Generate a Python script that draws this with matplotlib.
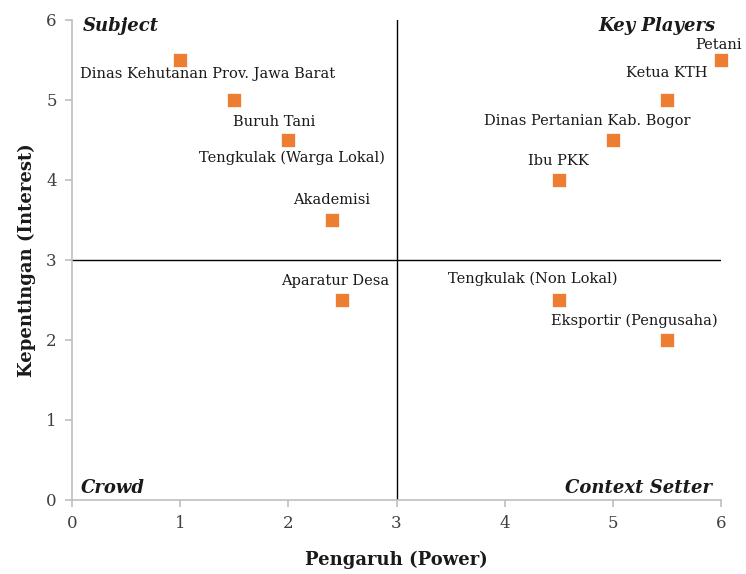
import matplotlib.pyplot as plt

# dados do mapa de stakeholder
aktor = ['Dinas Kehutanan Prov. Jawa Barat', 'Buruh Tani', 'Tengkulak (Warga Lokal)',
         'Akademisi', 'Aparatur Desa', 'Petani', 'Ketua KTH', 'Dinas Pertanian Kab. Bogor',
         'Ibu PKK', 'Tengkulak (Non Lokal)', 'Eksportir (Pengusaha)']
pengaruh = [1, 1.5, 2, 2.4, 2.5, 6, 5.5, 5, 4.5, 4.5, 5.5]
kepentingan = [5.5, 5, 4.5, 3.5, 2.5, 5.5, 5, 4.5, 4, 2.5, 2]
# deslocamento dos rótulos em pixels (dx, dy)
offsets = [(27, -14), (40, -22), (4, -18), (0, 20), (-7, 19), (-2, 15),
           (0, 27), (-26, 19), (0, 19), (-26, 21), (-33, 19)]

kuadran = ['Subject', 'Key Players', 'Crowd', 'Context Setter']

fonte = 'DejaVu Serif'
plt.rcParams['font.family'] = fonte

fig = plt.figure(figsize=(7.46, 5.74), dpi=100)
ax = fig.add_axes([72 / 746, 1 - 500 / 574, 649 / 746, 480 / 574])

# linhas que dividem os quadrantes
ax.plot([3, 3], [0, 6], color='black', lw=1, zorder=1)
ax.plot([0, 6], [3, 3], color='black', lw=1, zorder=1)

ax.scatter(pengaruh, kepentingan, marker='s', s=88, color='#ED7D31',
           edgecolors='white', linewidths=0.5, zorder=3, clip_on=False)

for nome, x, y, (dx, dy) in zip(aktor, pengaruh, kepentingan, offsets):
    ax.annotate(nome, (x, y), xytext=(dx, dy), textcoords='offset pixels',
                ha='center', va='center', fontsize=10.5, color='#1a1a1a')

# nomes dos quadrantes
ax.text(0.1, 5.93, kuadran[0], ha='left', va='center', fontsize=13,
        fontweight='bold', fontstyle='italic', color='#1a1a1a')
ax.text(5.95, 5.93, kuadran[1], ha='right', va='center', fontsize=13,
        fontweight='bold', fontstyle='italic', color='#1a1a1a')
ax.text(0.08, 0.15, kuadran[2], ha='left', va='center', fontsize=13,
        fontweight='bold', fontstyle='italic', color='#1a1a1a')
ax.text(5.92, 0.15, kuadran[3], ha='right', va='center', fontsize=13,
        fontweight='bold', fontstyle='italic', color='#1a1a1a')

ax.set_xlim(0, 6)
ax.set_ylim(0, 6)
ax.set_xticks(range(7))
ax.set_yticks(range(7))
ax.tick_params(colors='#BFBFBF', labelcolor='#404040', labelsize=12, length=5, width=1.2, pad=6)
for lado in ['top', 'right']:
    ax.spines[lado].set_visible(False)
for lado in ['left', 'bottom']:
    ax.spines[lado].set_color('#BFBFBF')
    ax.spines[lado].set_linewidth(1.2)

ax.set_xlabel('Pengaruh (Power)', fontsize=13, fontweight='bold', labelpad=13, color='#1a1a1a')
ax.set_ylabel('Kepentingan (Interest)', fontsize=13, fontweight='bold', labelpad=7, color='#1a1a1a')

fig.savefig('out.png', dpi=100)
